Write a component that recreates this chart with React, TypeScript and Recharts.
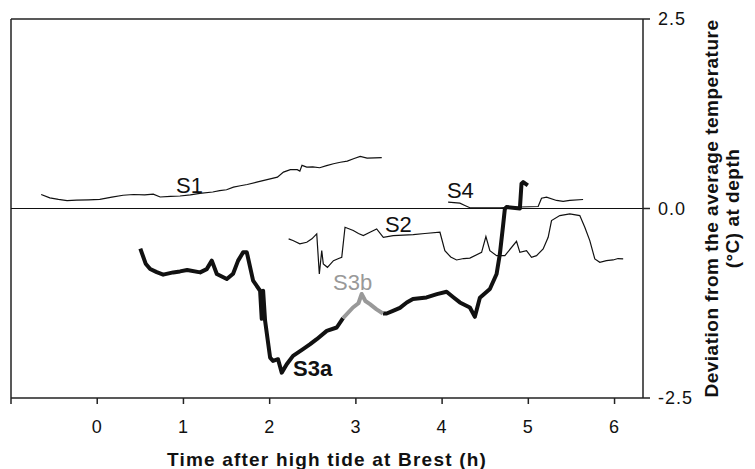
import React from 'react';
import { LineChart, Line, XAxis, YAxis, ReferenceLine, ReferenceDot } from 'recharts';

const FONT = '"Liberation Sans", Arial, Helvetica, sans-serif';

// hours after high tide at Brest
const timeTicks = [-1, 0, 1, 2, 3, 4, 5, 6];
// deviation from mean temperature (degC)
const tempTicks = [-2.5, 0, 2.5];

const s1 = [
  { t: -0.65, v: 0.185 }, { t: -0.55, v: 0.14 }, { t: -0.45, v: 0.12 }, { t: -0.35, v: 0.105 },
  { t: -0.24, v: 0.11 }, { t: -0.1, v: 0.115 }, { t: 0.03, v: 0.12 }, { t: 0.17, v: 0.15 },
  { t: 0.3, v: 0.175 }, { t: 0.42, v: 0.185 }, { t: 0.55, v: 0.18 }, { t: 0.65, v: 0.19 },
  { t: 0.73, v: 0.152 }, { t: 0.85, v: 0.16 }, { t: 0.96, v: 0.165 }, { t: 1.08, v: 0.18 },
  { t: 1.19, v: 0.2 }, { t: 1.34, v: 0.218 }, { t: 1.42, v: 0.235 }, { t: 1.5, v: 0.247 },
  { t: 1.58, v: 0.282 }, { t: 1.66, v: 0.3 }, { t: 1.74, v: 0.317 }, { t: 1.85, v: 0.348 },
  { t: 1.97, v: 0.38 }, { t: 2.09, v: 0.414 }, { t: 2.16, v: 0.48 }, { t: 2.24, v: 0.512 },
  { t: 2.32, v: 0.512 }, { t: 2.35, v: 0.493 }, { t: 2.375, v: 0.569 }, { t: 2.43, v: 0.546 },
  { t: 2.5, v: 0.55 }, { t: 2.58, v: 0.538 }, { t: 2.66, v: 0.565 }, { t: 2.74, v: 0.59 },
  { t: 2.82, v: 0.61 }, { t: 2.9, v: 0.626 }, { t: 2.98, v: 0.66 }, { t: 3.05, v: 0.688 },
  { t: 3.13, v: 0.665 }, { t: 3.22, v: 0.668 }, { t: 3.3, v: 0.671 },
];

const s2 = [
  { t: 2.22, v: -0.4 }, { t: 2.27, v: -0.423 }, { t: 2.35, v: -0.467 }, { t: 2.43, v: -0.446 },
  { t: 2.49, v: -0.4 }, { t: 2.546, v: -0.335 }, { t: 2.576, v: -0.864 }, { t: 2.604, v: -0.556 },
  { t: 2.622, v: -0.731 }, { t: 2.67, v: -0.776 }, { t: 2.74, v: -0.688 }, { t: 2.8, v: -0.66 },
  { t: 2.836, v: -0.644 }, { t: 2.874, v: -0.247 }, { t: 2.97, v: -0.29 }, { t: 3.03, v: -0.33 },
  { t: 3.086, v: -0.357 }, { t: 3.163, v: -0.313 }, { t: 3.241, v: -0.269 }, { t: 3.318, v: -0.38 },
  { t: 3.433, v: -0.357 }, { t: 3.55, v: -0.35 }, { t: 3.665, v: -0.344 }, { t: 3.8, v: -0.33 },
  { t: 3.975, v: -0.313 }, { t: 4.032, v: -0.556 }, { t: 4.1, v: -0.64 }, { t: 4.168, v: -0.679 },
  { t: 4.25, v: -0.66 }, { t: 4.322, v: -0.655 }, { t: 4.458, v: -0.578 }, { t: 4.508, v: -0.37 },
  { t: 4.554, v: -0.556 }, { t: 4.632, v: -0.622 }, { t: 4.728, v: -0.622 }, { t: 4.863, v: -0.433 },
  { t: 4.902, v: -0.578 }, { t: 4.979, v: -0.556 }, { t: 5.037, v: -0.644 }, { t: 5.095, v: -0.622 },
  { t: 5.172, v: -0.533 }, { t: 5.23, v: -0.38 }, { t: 5.269, v: -0.159 }, { t: 5.365, v: -0.093 },
  { t: 5.481, v: -0.07 }, { t: 5.597, v: -0.093 }, { t: 5.655, v: -0.247 }, { t: 5.713, v: -0.423 },
  { t: 5.771, v: -0.665 }, { t: 5.829, v: -0.71 }, { t: 5.906, v: -0.688 }, { t: 5.983, v: -0.679 },
  { t: 6.04, v: -0.66 }, { t: 6.1, v: -0.665 },
];

const s3aEarly = [
  { t: 0.5, v: -0.53 }, { t: 0.562, v: -0.728 }, { t: 0.614, v: -0.798 }, { t: 0.69, v: -0.84 },
  { t: 0.765, v: -0.873 }, { t: 0.881, v: -0.843 }, { t: 0.96, v: -0.83 }, { t: 1.043, v: -0.811 },
  { t: 1.194, v: -0.843 }, { t: 1.27, v: -0.8 }, { t: 1.329, v: -0.688 }, { t: 1.387, v: -0.864 },
  { t: 1.503, v: -0.93 }, { t: 1.576, v: -0.86 }, { t: 1.634, v: -0.688 }, { t: 1.692, v: -0.578 },
  { t: 1.735, v: -0.578 }, { t: 1.808, v: -0.952 }, { t: 1.889, v: -1.085 }, { t: 1.908, v: -1.455 },
  { t: 1.924, v: -1.085 }, { t: 1.947, v: -1.481 }, { t: 2.005, v: -1.967 }, { t: 2.039, v: -2.011 },
  { t: 2.097, v: -1.988 }, { t: 2.14, v: -2.165 }, { t: 2.198, v: -2.054 }, { t: 2.271, v: -1.944 },
  { t: 2.387, v: -1.856 }, { t: 2.47, v: -1.79 }, { t: 2.546, v: -1.724 }, { t: 2.662, v: -1.614 },
  { t: 2.778, v: -1.57 }, { t: 2.851, v: -1.446 },
];

const s3b = [
  { t: 2.851, v: -1.446 }, { t: 2.966, v: -1.306 }, { t: 3.03, v: -1.25 }, { t: 3.067, v: -1.128 },
  { t: 3.11, v: -1.22 }, { t: 3.163, v: -1.261 }, { t: 3.24, v: -1.33 }, { t: 3.314, v: -1.385 },
];

const s3aLate = [
  { t: 3.314, v: -1.385 }, { t: 3.357, v: -1.385 }, { t: 3.43, v: -1.35 }, { t: 3.511, v: -1.31 },
  { t: 3.59, v: -1.24 }, { t: 3.662, v: -1.194 }, { t: 3.82, v: -1.173 }, { t: 3.94, v: -1.13 },
  { t: 4.052, v: -1.098 }, { t: 4.13, v: -1.17 }, { t: 4.206, v: -1.239 }, { t: 4.322, v: -1.306 },
  { t: 4.38, v: -1.429 }, { t: 4.438, v: -1.177 }, { t: 4.554, v: -1.062 }, { t: 4.632, v: -0.864 },
  { t: 4.67, v: -0.599 }, { t: 4.705, v: -0.247 }, { t: 4.728, v: -0.004 }, { t: 4.747, v: 0.02 },
  { t: 4.902, v: 0.0 }, { t: 4.921, v: 0.327 }, { t: 4.94, v: 0.348 }, { t: 4.994, v: 0.304 },
];

const s4 = [
  { t: 4.07, v: 0.083 }, { t: 4.206, v: 0.07 }, { t: 4.264, v: 0.04 }, { t: 4.322, v: 0.01 },
  { t: 4.67, v: 0.007 }, { t: 4.902, v: 0.02 }, { t: 5.114, v: 0.026 }, { t: 5.153, v: 0.136 },
  { t: 5.211, v: 0.149 }, { t: 5.327, v: 0.106 }, { t: 5.404, v: 0.093 }, { t: 5.481, v: 0.106 },
  { t: 5.635, v: 0.119 },
];

const seriesText = (text: string, color: string, weight: string | number) => (p: any) => (
  <text x={p.cx} y={p.cy} fill={color} fontSize={22} fontWeight={weight} fontFamily={FONT}>
    {text}
  </text>
);

const XTitle = (p: any) => {
  const vb = p.viewBox || { x: 11, y: 398, width: 632, height: 71 };
  return (
    <text x={vb.x + vb.width / 2} y={466} textAnchor="middle" fontSize={19} fontWeight="bold"
      fontFamily={FONT} fill="#111" letterSpacing={1.2}>
      Time after high tide at Brest (h)
    </text>
  );
};

const YTitle = (p: any) => {
  const vb = p.viewBox || { x: 643, y: 19, width: 112, height: 379 };
  const cy = vb.y + vb.height / 2;
  const x1 = vb.x + 75;
  const x2 = vb.x + 96;
  return (
    <g fontSize={19} fontWeight="bold" fontFamily={FONT} fill="#111">
      <text x={x1} y={cy} textAnchor="middle" transform={`rotate(-90, ${x1}, ${cy})`} letterSpacing={0.5}>
        Deviation from the average temperature
      </text>
      <text x={x2} y={cy} textAnchor="middle" transform={`rotate(-90, ${x2}, ${cy})`} letterSpacing={0.5}>
        (°C) at depth
      </text>
    </g>
  );
};

const tickStyle = { fontSize: 18, fill: '#111', fontFamily: FONT, letterSpacing: 1 };

export default function App() {
  return (
    <div style={{ position: 'absolute', left: 0, top: 0, background: '#fff' }}>
      <LineChart width={755} height={469} margin={{ top: 19, right: 0, bottom: 0, left: 11 }}>
        <XAxis
          dataKey="t"
          type="number"
          domain={[-1, 6.33]}
          ticks={timeTicks}
          tickFormatter={(v: number) => (v === -1 ? '' : String(v))}
          allowDataOverflow
          height={71}
          tickSize={6}
          tickMargin={16}
          tick={tickStyle}
          stroke="#222"
          strokeWidth={1.5}
          label={XTitle}
        />
        <YAxis
          orientation="right"
          type="number"
          domain={[-2.5, 2.5]}
          ticks={tempTicks}
          tickFormatter={(v: number) => v.toFixed(1)}
          width={112}
          tickSize={7}
          tickMargin={8}
          tick={tickStyle}
          stroke="#222"
          strokeWidth={1.5}
          label={YTitle}
        />
        <ReferenceLine y={2.5} stroke="#222" strokeWidth={1.5} />
        <ReferenceLine x={-1} stroke="#222" strokeWidth={1.5} />
        <ReferenceLine y={0} stroke="#111" strokeWidth={1} />

        <Line data={s1} dataKey="v" type="linear" stroke="#111" strokeWidth={1.2} dot={false} isAnimationActive={false} />
        <Line data={s2} dataKey="v" type="linear" stroke="#111" strokeWidth={1.2} dot={false} isAnimationActive={false} />
        <Line data={s4} dataKey="v" type="linear" stroke="#111" strokeWidth={1.2} dot={false} isAnimationActive={false} />
        <Line data={s3aEarly} dataKey="v" type="linear" stroke="#111" strokeWidth={4} strokeLinejoin="round" dot={false} isAnimationActive={false} />
        <Line data={s3aLate} dataKey="v" type="linear" stroke="#111" strokeWidth={4} strokeLinejoin="round" dot={false} isAnimationActive={false} />
        <Line data={s3b} dataKey="v" type="linear" stroke="#999" strokeWidth={4} strokeLinejoin="round" dot={false} isAnimationActive={false} />

        <ReferenceDot x={0.915} y={0.198} r={0} shape={seriesText('S1', '#111', 'normal')} />
        <ReferenceDot x={3.337} y={-0.31} r={0} shape={seriesText('S2', '#111', 'normal')} />
        <ReferenceDot x={4.056} y={0.132} r={0} shape={seriesText('S4', '#111', 'normal')} />
        <ReferenceDot x={2.735} y={-1.071} r={0} shape={seriesText('S3b', '#999', 'normal')} />
        <ReferenceDot x={2.271} y={-2.209} r={0} shape={seriesText('S3a', '#111', 'bold')} />
      </LineChart>
    </div>
  );
}
